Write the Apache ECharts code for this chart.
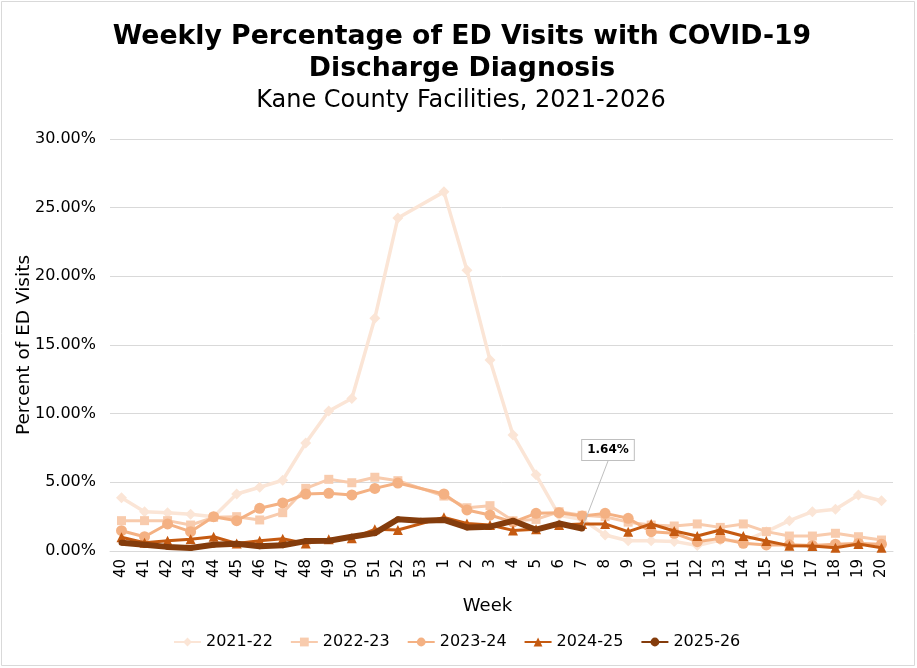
<!DOCTYPE html>
<html>
<head>
<meta charset="utf-8">
<script src="https://cdn.jsdelivr.net/npm/echarts@6/dist/echarts.min.js"></script>
<style>
html,body{margin:0;padding:0;background:#fff;}
#c{width:917px;height:668px;}
</style>
</head>
<body>
<div id="c"></div>
<script>
var weeks = ['40','41','42','43','44','45','46','47','48','49','50','51','52','53','1','2','3','4','5','6','7','8','9','10','11','12','13','14','15','16','17','18','19','20'];
var s2122 = [3.88,2.86,2.79,2.67,2.5,4.15,4.64,5.15,7.86,10.19,11.1,16.95,24.25,null,26.15,20.45,13.9,8.45,5.55,2.6,2.3,1.16,0.75,0.75,0.7,0.4,0.8,0.7,1.41,2.21,2.86,3.04,4.08,3.66];
var s2223 = [2.21,2.21,2.21,1.89,2.45,2.5,2.26,2.79,4.56,5.22,4.97,5.37,5.12,null,4.0,3.15,3.3,2.2,2.3,2.86,2.6,2.5,2.1,1.89,1.82,1.97,1.72,1.97,1.41,1.09,1.09,1.29,1.04,0.8];
var s2324 = [1.48,1.04,1.97,1.41,2.5,2.21,3.11,3.5,4.15,4.2,4.08,4.56,4.95,null,4.15,2.99,2.62,2.1,2.74,2.79,2.55,2.74,2.38,1.41,1.29,0.68,0.92,0.56,0.44,0.45,0.4,0.5,0.55,0.5];
var s2425 = [1.0,0.6,0.75,0.85,1.04,0.55,0.75,0.9,0.55,0.85,0.92,1.58,1.53,null,2.45,2.0,1.89,1.5,1.58,1.89,1.97,1.97,1.41,1.97,1.46,1.09,1.53,1.09,0.73,0.39,0.36,0.24,0.51,0.24];
var s2526 = [0.6,0.45,0.3,0.22,0.45,0.52,0.35,0.42,0.72,0.75,1.04,1.3,2.31,2.21,2.26,1.72,1.77,2.2,1.55,2.0,1.64,null,null,null,null,null,null,null,null,null,null,null,null,null];
var seriesNames = ['2021-22','2022-23','2023-24','2024-25','2025-26'];
var calloutIndex = 20;

var FONT = 'DejaVu Sans';
var chart = echarts.init(document.getElementById('c'), null, {renderer:'canvas'});

function mk(name, data, color, symbol, size, width, z) {
  return {
    name: name, type: 'line', data: data, connectNulls: true,
    symbol: symbol, symbolSize: size, showSymbol: true,
    itemStyle: {color: color},
    lineStyle: {color: color, width: width},
    z: z, animation: false
  };
}

var lastData = s2526.map(function(v, i){
  if (i === calloutIndex) {
    return {
      value: v,
      label: {
        show: true, formatter: v.toFixed(2) + '%',
        fontFamily: FONT, fontWeight: 'bold', fontSize: 12, color: '#000',
        backgroundColor: '#fff', borderColor: '#bfbfbf', borderWidth: 1,
        padding: [5, 5, 3, 5]
      },
      labelLine: {show: true, lineStyle: {color: '#bfbfbf', width: 1}}
    };
  }
  return v;
});

var series = [
  mk(seriesNames[0], s2122, '#FBE5D6', 'diamond', 11, 3.5, 1),
  mk(seriesNames[1], s2223, '#F8CBAD', 'rect', 9, 3, 2),
  mk(seriesNames[2], s2324, '#F4B183', 'circle', 11, 3, 3),
  mk(seriesNames[3], s2425, '#C55A11', 'triangle', 10, 3, 4),
  mk(seriesNames[4], lastData, '#843C0C', 'circle', 6, 6, 5)
];
series[4].labelLayout = function(p){
  if (p.dataIndex === calloutIndex) return {x: 608, y: 450, align: 'center', verticalAlign: 'middle'};
  return {};
};

chart.setOption({
  backgroundColor: '#fff',
  animation: false,
  title: [
    {text: 'Weekly Percentage of ED Visits with COVID-19\nDischarge Diagnosis', left: 457, textAlign: 'center', top: 16,
     textStyle: {fontFamily: FONT, fontWeight: 'bold', fontSize: 26.7, color: '#000', lineHeight: 32}},
    {text: 'Kane County Facilities, 2021-2026', left: 456, textAlign: 'center', top: 84,
     textStyle: {fontFamily: FONT, fontWeight: 'normal', fontSize: 24, color: '#000'}}
  ],
  grid: {left: 110, right: 24, top: 139, bottom: 117},
  legend: {
    top: 629, left: 168, itemGap: 17, itemWidth: 27, itemHeight: 11,
    textStyle: {fontFamily: FONT, fontSize: 16, color: '#000'},
    data: seriesNames
  },
  xAxis: {
    type: 'category', data: weeks, boundaryGap: true,
    name: 'Week', nameLocation: 'middle', nameGap: 46,
    nameTextStyle: {fontFamily: FONT, fontSize: 18, color: '#000', padding: [0, 28, 0, 0]},
    axisLine: {lineStyle: {color: '#d9d9d9'}},
    axisTick: {show: false},
    axisLabel: {rotate: 90, interval: 0, fontFamily: FONT, fontSize: 15, color: '#000', margin: 8}
  },
  yAxis: {
    type: 'value', min: 0, max: 30, interval: 5,
    name: 'Percent of ED Visits', nameLocation: 'middle', nameGap: 76, nameRotate: 90,
    nameMoveOverlap: false,
    nameTextStyle: {fontFamily: FONT, fontSize: 18.5, color: '#000'},
    axisLine: {show: false}, axisTick: {show: false},
    splitLine: {lineStyle: {color: '#d9d9d9'}},
    axisLabel: {fontFamily: FONT, fontSize: 16, color: '#000', margin: 14,
      formatter: function(v){ return v.toFixed(2) + '%'; }}
  },
  graphic: [{type: 'rect', shape: {x: 1.5, y: 1.5, width: 913, height: 664}, style: {fill: 'none', stroke: '#d9d9d9', lineWidth: 1}, silent: true, z: -1}],
  series: series
});
</script>
</body>
</html>
